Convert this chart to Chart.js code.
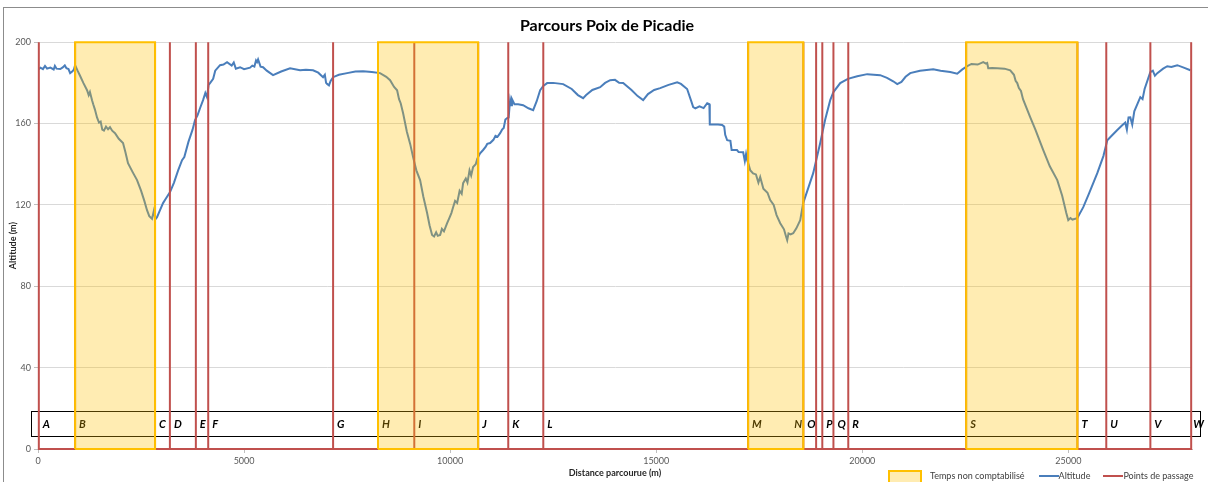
<!DOCTYPE html>
<html>
<head>
<meta charset="utf-8">
<script src="https://cdn.jsdelivr.net/npm/chart.js@4.4.0/dist/chart.umd.min.js"></script>
<style>
  body { margin: 0; background: #fff; overflow: hidden; }
  #wrap { position: relative; width: 1208px; height: 482px; overflow: hidden; font-family: Lato, sans-serif; }
  #frame { position: absolute; left: 3px; top: 7px; right: -5px; bottom: -5px; border: 1px solid #8c8c8c; }
  #chart { position: absolute; left: 0; top: 0; }
  #legend { position: absolute; left: 888px; top: 470px; display: flex; align-items: flex-start; font-size: 9px; line-height: 12px; color: #404040; white-space: nowrap; }
  .zone { width: 30px; height: 12px; border: 2px solid #FFC000; background: rgba(255,192,0,0.3); margin-right: 8px; }
  .ln { width: 20px; height: 2px; margin-top: 5px; }
</style>
</head>
<body>
<div id="wrap">
  <div id="frame"></div>
  <canvas id="chart" width="1208" height="482"></canvas>
  <div id="legend">
    <span class="zone"></span><span>Temps non comptabilisé</span>
    <span class="ln" style="background:#4A7EBB;margin-left:14px"></span><span>Altitude</span>
    <span class="ln" style="background:#C0504D;margin-left:13px"></span><span>Points de passage</span>
  </div>
</div>
<script>
// profil altimétrique (distance en m, altitude en m)
const distance = [0, 60, 120, 170, 220, 300, 380, 410, 450, 540, 600, 650, 690, 740, 780, 830, 870, 900,
  960, 1020, 1100, 1190, 1230, 1260, 1311, 1340, 1380, 1432, 1480, 1520, 1560, 1600, 1650, 1700, 1747, 1800, 1869, 1960,
  2063, 2120, 2184, 2300, 2403, 2500, 2580, 2645, 2700, 2767, 2810, 2850, 2888,
  2950, 3034, 3100, 3204, 3300, 3400, 3495, 3550, 3650, 3750, 3810, 3870, 3940, 4005, 4060, 4100, 4140, 4174, 4250, 4300,
  4417, 4500, 4587, 4700, 4750, 4800, 4903, 5000, 5145, 5200, 5250, 5290, 5315, 5340, 5400, 5461, 5550, 5703, 5900,
  6116, 6359, 6500, 6674, 6800, 6917, 6960, 6990, 7014, 7060, 7100, 7160, 7300, 7499, 7700, 7888, 8100, 8300, 8450,
  8543, 8640, 8713, 8760, 8800, 8859, 8950, 9030, 9101, 9180, 9271, 9350, 9441, 9500, 9562, 9610, 9660, 9700, 9757,
  9800, 9850, 9927, 9980, 10030, 10072, 10120, 10170, 10230, 10280, 10315, 10380, 10420, 10470, 10510, 10557, 10620,
  10660, 10727, 10800, 10860, 10900, 10970, 11050, 11100, 11150, 11213, 11260, 11300, 11340, 11383, 11420, 11440,
  11456, 11480, 11500, 11560, 11650, 11771, 11900, 12014, 12100, 12184, 12260, 12354, 12500, 12742, 12950, 13100,
  13227, 13300, 13450, 13640, 13760, 13883, 14000, 14100, 14198, 14400, 14550, 14683, 14800, 14950, 15096, 15300,
  15509, 15600, 15750, 15850, 15897, 15950, 16050, 16150, 16237, 16290, 16300, 16500, 16600, 16650, 16674, 16722,
  16800, 16830, 16960, 17000, 17110, 17150, 17180, 17207, 17240, 17280, 17350, 17420, 17480, 17523, 17600, 17700,
  17766, 17850, 17920, 18009, 18100, 18150, 18178, 18210, 18260, 18324, 18400, 18494, 18566, 18700, 18809, 18979,
  19100, 19222, 19300, 19465, 19650, 19877, 20120, 20435, 20600, 20750, 20848, 20950, 21050, 21163, 21400, 21721,
  21900, 22133, 22303, 22420, 22546, 22650, 22800, 22935, 23000, 23030, 23056, 23150, 23275, 23450, 23590, 23680,
  23720, 23760, 23800, 23850, 23900, 24076, 24200, 24391, 24550, 24731, 24850, 24950, 24998, 25050, 25100, 25216,
  25362, 25500, 25702, 25850, 25945, 26050, 26187, 26300, 26380, 26420, 26460, 26503, 26550, 26600, 26746, 26800,
  26850, 26988, 27050, 27100, 27158, 27300, 27400, 27500, 27643, 27800, 27960];
const altitude = [186.5, 187.5, 186.8, 188.3, 187, 187.5, 186.6, 188.4, 187, 186.8, 187.6, 188.6, 187.2, 186.8, 184.8, 185.6, 186.5, 188.7,
  186, 183.5, 180, 176.4, 174, 175.5, 171.5, 169.5, 167, 163, 160.5, 161, 157, 156.5, 158.5, 157.2, 158.2, 156.5, 155.3, 152.5,
  150.4, 146, 140.5, 136, 132.2, 127, 122, 117.4, 114.5, 113.2, 117, 113, 114,
  117, 120.9, 123, 126.3, 131, 137, 142, 143.5, 151, 157, 161.7, 164, 168, 171.5, 175, 173, 179, 179.9, 182, 186,
  188.7, 189, 190.2, 188.5, 190, 187, 187.7, 186.7, 187.5, 188.5, 188, 191, 190.2, 191.5, 188, 187.7, 186, 183.8, 185.6,
  187.2, 186.2, 186.5, 186.2, 185, 182.8, 184, 180, 179.5, 178.8, 181, 182.8, 184, 184.8, 185.6, 185.7, 185.3, 184.8, 183,
  181.3, 178, 176.4, 172, 170, 165.1, 156, 150, 143.5, 137, 132.2, 124, 116, 110, 105.2, 104.5, 106.5, 104.8, 105.2,
  108.2, 107, 111, 113.5, 116, 118.9, 122, 121, 127, 125.5, 130.7, 133, 131, 137, 134.5, 138.6, 140,
  142.8, 145.4, 147, 148.5, 150, 150.4, 152, 154, 153.5, 155.3, 157, 157.8, 162, 162.7, 163, 168,
  171.5, 169, 172, 169.5, 169.5, 169, 167.5, 166.6, 171, 176.4, 178.5, 179.9, 180, 179.4, 177, 174,
  172.5, 174, 176.5, 177.9, 180, 181.3, 181.5, 180, 179.9, 176.5, 173.5, 171.5, 174.5, 176.5, 177.4, 179,
  180.3, 179.5, 177, 171, 168.1, 167.5, 168.5, 167.6, 170, 169.5, 159.5, 159.5, 159.3, 158.5, 154.5, 151.8,
  151.5, 147, 147, 146, 145.9, 141.5, 145, 142, 140, 137.1, 135.5, 135, 131, 133.7, 128, 126,
  122.4, 120, 115, 111, 108, 104.5, 102.7, 106, 105.5, 106.1, 108.5, 112.5, 120.9, 129, 135.6, 150.4,
  162, 171.5, 175.5, 179.9, 182, 183.3, 184.3, 183.8, 182.5, 180.8, 179.4, 180.5, 183, 184.8, 186, 186.7,
  186, 185.3, 184.5, 186.5, 188.2, 189.3, 189, 190.2, 189.5, 189.8, 187.2, 187.3, 187.2, 187, 186.2, 184,
  181, 179.9, 177.5, 176, 172, 163.1, 157, 146.9, 139, 132.2, 124.5, 116, 112.5, 113.5, 112.8, 113.5,
  118.9, 125.5, 135.6, 144, 151.8, 154, 156.8, 159, 160.5, 157, 163, 163.1, 159.5, 166, 173, 172,
  177, 185.3, 186, 183.5, 184.8, 187, 188.2, 187.8, 188.7, 187.5, 186.2];

// points de passage
const waypoints = ['A','B','C','D','E','F','G','H','I','J','K','L','M','N','O','P','Q','R','S','T','U','V','W'];
const waypointDist = [20, 900, 2840, 3200, 3830, 4130, 7160, 8250, 9130, 10680, 11410, 12260,
  17230, 18570, 18880, 19030, 19300, 19660, 22520, 25220, 25920, 26990, 27980];

// zones "temps non comptabilisé"
const zoneStart = [900, 8250, 17230, 22520];
const zoneEnd = [2840, 10680, 18570, 25220];

const xTicks = [0, 5000, 10000, 15000, 20000, 25000];
const yTicks = [0, 40, 80, 120, 160, 200];

document.addEventListener('DOMContentLoaded', () => {
  const ctx = document.getElementById('chart').getContext('2d');
  const FONT = 'Lato';

  const altPts = distance.map((d, i) => ({x: d, y: altitude[i]}));
  let passPts = [];
  waypointDist.forEach(d => {
    passPts.push({x: d, y: 0}, {x: d, y: 200}, {x: d, y: 0});
  });

  let datasets = [];
  zoneStart.forEach((s, i) => {
    let e = zoneEnd[i];
    datasets.push({
      label: 'Temps non comptabilisé',
      data: [{x: s, y: 0}, {x: s, y: 200}, {x: e, y: 200}, {x: e, y: 0}],
      borderWidth: 0,
      backgroundColor: 'rgba(255,192,0,0.3)',
      fill: 'origin',
      order: 1
    });
    datasets.push({
      label: 'bord',
      data: [{x: s, y: 0}, {x: s, y: 200}, {x: e, y: 200}, {x: e, y: 0}, {x: s, y: 0}],
      borderColor: '#FFC000',
      borderWidth: 2,
      fill: false,
      order: 0,
      clip: 3
    });
  });
  datasets.push({
    label: 'Points de passage',
    data: passPts,
    borderColor: '#C0504D',
    borderWidth: 2,
    fill: false,
    order: 2,
    clip: 3
  });
  datasets.push({
    label: 'Altitude',
    data: altPts,
    borderColor: '#4A7EBB',
    borderWidth: 2,
    fill: false,
    order: 3
  });

  // bandeau des lettres, sous les zones jaunes
  const stripPlugin = {
    id: 'strip',
    afterLayout(chart) {
      // titre centré sur toute la largeur du cadre
      if (chart.titleBlock) chart.titleBlock.left += 22;
    },
    beforeDatasetsDraw(chart) {
      const c = chart.ctx;
      const x = chart.scales.x, y = chart.scales.y;
      const top = y.getPixelForValue(18.7), bot = y.getPixelForValue(6.4);
      const left = x.getPixelForValue(-170), right = x.getPixelForValue(28200);
      c.save();
      c.strokeStyle = '#000';
      c.lineWidth = 1;
      c.strokeRect(Math.round(left) + 0.5, Math.round(top) + 0.5, Math.round(right - left), Math.round(bot - top));
      c.font = 'italic bold 11px ' + FONT;
      c.fillStyle = '#000';
      c.textBaseline = 'middle';
      const mid = (top + bot) / 2 + 1;
      waypoints.forEach((w, i) => {
        let px = x.getPixelForValue(waypointDist[i]);
        let off = 4;
        if (w === 'N' || w === 'O') off = -9;
        if (w === 'W') off = 2;
        c.fillText(w, px + off, mid);
      });
      c.restore();
    }
  };

  new Chart(ctx, {
    type: 'scatter',
    data: {datasets: datasets},
    options: {
      responsive: false,
      animation: false,
      showLine: true,
      elements: {point: {radius: 0, hoverRadius: 0}, line: {tension: 0}},
      layout: {padding: {left: 0, right: 16, top: 0, bottom: 0}},
      plugins: {
        legend: {display: false},
        tooltip: {enabled: false},
        title: {
          display: true,
          text: 'Parcours Poix de Picadie',
          color: '#000',
          font: {family: FONT, size: 16, weight: 'bold'},
          padding: {top: 16, bottom: 7}
        }
      },
      scales: {
        x: {
          type: 'linear',
          min: 0,
          max: 28000,
          afterBuildTicks: s => { s.ticks = xTicks.map(v => ({value: v})); },
          afterFit: s => { s.height = 33; },
          grid: {drawOnChartArea: false, drawTicks: true, tickLength: 4, tickColor: '#BFBFBF'},
          border: {display: true, color: '#BFBFBF'},
          ticks: {color: '#595959', font: {family: FONT, size: 9}, padding: 3, maxRotation: 0,
            callback: v => String(v)},
          title: {display: true, text: 'Distance parcourue (m)', color: '#262626',
            font: {family: FONT, size: 9, weight: 'bold'}, padding: {top: 0, bottom: 4}}
        },
        y: {
          min: 0,
          max: 200,
          afterBuildTicks: s => { s.ticks = yTicks.map(v => ({value: v})); },
          afterFit: s => { s.width = 38; },
          grid: {color: '#D9D9D9', tickLength: 4, tickColor: '#BFBFBF'},
          border: {display: true, color: '#BFBFBF'},
          ticks: {color: '#595959', font: {family: FONT, size: 9}, padding: 3},
          title: {display: true, text: 'Altitude (m)', color: '#262626',
            font: {family: FONT, size: 9, weight: 'bold'}, padding: {top: 8, bottom: 0}}
        }
      }
    },
    plugins: [stripPlugin]
  });
});
</script>
</body>
</html>
